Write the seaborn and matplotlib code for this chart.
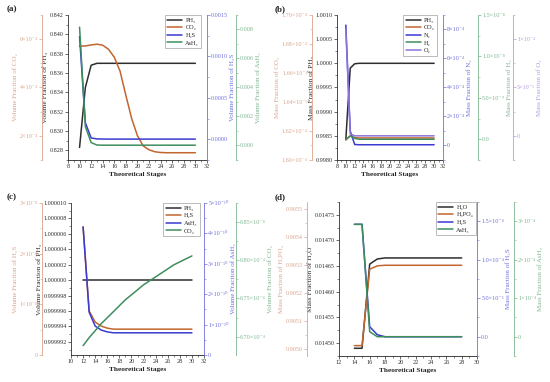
import matplotlib
matplotlib.use("Agg")
import matplotlib.pyplot as plt
import seaborn as sns
from matplotlib.ticker import MultipleLocator, AutoMinorLocator, FormatStrFormatter

# ---------------- data ----------------
stages_a = [10, 11, 12, 13, 14, 15, 16, 17, 18, 19, 20, 21, 22, 23, 24, 25, 26, 27, 28, 29, 30]
a_ph3 = [0.8283, 0.8345, 0.8368, 0.8370, 0.8370, 0.8370, 0.8370, 0.8370, 0.8370, 0.8370, 0.8370,
         0.8370, 0.8370, 0.8370, 0.8370, 0.8370, 0.8370, 0.8370, 0.8370, 0.8370, 0.8370]
a_co2 = [5.71e-4, 5.72e-4, 5.76e-4, 5.79e-4, 5.75e-4, 5.58e-4, 5.25e-4, 4.67e-4, 3.67e-4, 2.71e-4, 2.00e-4,
         1.58e-4, 1.42e-4, 1.34e-4, 1.31e-4, 1.30e-4, 1.30e-4, 1.30e-4, 1.30e-4, 1.30e-4, 1.30e-4]
a_h2s = [1.24e-3, 2.0e-4, 1.6e-5, 4e-6, 3e-6, 2e-6, 2e-6, 2e-6, 2e-6, 2e-6, 2e-6,
         2e-6, 2e-6, 2e-6, 2e-6, 2e-6, 2e-6, 2e-6, 2e-6, 2e-6, 2e-6]
a_ash3 = [8.16e-3, 1.30e-3, 2.0e-4, 3e-5, 2e-5, 2e-5, 2e-5, 2e-5, 2e-5, 2e-5, 2e-5,
          2e-5, 2e-5, 2e-5, 2e-5, 2e-5, 2e-5, 2e-5, 2e-5, 2e-5, 2e-5]

stages_b = [10, 11, 12, 13, 14, 15, 16, 17, 18, 19, 20, 21, 22, 23, 24, 25, 26, 27, 28, 29, 30]
b_ph3 = [0.99842, 0.99990, 0.99999, 1.0, 1.0, 1.0, 1.0, 1.0, 1.0, 1.0, 1.0,
         1.0, 1.0, 1.0, 1.0, 1.0, 1.0, 1.0, 1.0, 1.0, 1.0]
b_co2 = [1.6138e-4, 1.6166e-4, 1.6155e-4, 1.6152e-4, 1.6152e-4, 1.6152e-4, 1.6152e-4, 1.6152e-4,
         1.6152e-4, 1.6152e-4, 1.6152e-4, 1.6152e-4, 1.6152e-4, 1.6152e-4, 1.6152e-4, 1.6152e-4,
         1.6152e-4, 1.6152e-4, 1.6152e-4, 1.6152e-4, 1.6152e-4]
b_n2 = [8.3e-4, 1.0e-4, 7e-6, 5e-6, 5e-6, 5e-6, 5e-6, 5e-6, 5e-6, 5e-6, 5e-6,
        5e-6, 5e-6, 5e-6, 5e-6, 5e-6, 5e-6, 5e-6, 5e-6, 5e-6, 5e-6]
b_h2 = [0.0, 4e-10, 1e-10, 0.0, 0.0, 0.0, 0.0, 0.0, 0.0, 0.0, 0.0,
        0.0, 0.0, 0.0, 0.0, 0.0, 0.0, 0.0, 0.0, 0.0, 0.0]
b_o2 = [1.1e-4, 2e-6, 0.0, 0.0, 0.0, 0.0, 0.0, 0.0, 0.0, 0.0, 0.0,
        0.0, 0.0, 0.0, 0.0, 0.0, 0.0, 0.0, 0.0, 0.0, 0.0]

stages_c = [12, 13, 14, 15, 16, 17, 18, 19, 20, 21, 22, 23, 24, 25, 26, 27, 28, 29, 30]
c_ph3 = [1.0, 1.0, 1.0, 1.0, 1.0, 1.0, 1.0, 1.0, 1.0, 1.0, 1.0, 1.0, 1.0, 1.0, 1.0, 1.0, 1.0, 1.0, 1.0]
c_h2s = [2.53e-8, 0.87e-8, 0.65e-8, 0.57e-8, 0.53e-8, 0.51e-8, 0.51e-8, 0.51e-8, 0.51e-8, 0.51e-8,
         0.51e-8, 0.51e-8, 0.51e-8, 0.51e-8, 0.51e-8, 0.51e-8, 0.51e-8, 0.51e-8, 0.51e-8]
c_ash3 = [4.21e-10, 1.41e-10, 0.95e-10, 0.82e-10, 0.76e-10, 0.73e-10, 0.73e-10, 0.73e-10, 0.73e-10,
          0.73e-10, 0.73e-10, 0.73e-10, 0.73e-10, 0.73e-10, 0.73e-10, 0.73e-10, 0.73e-10, 0.73e-10, 0.73e-10]
c_co2 = [6.6883e-4, 6.6987e-4, 6.7078e-4, 6.7170e-4, 6.7248e-4, 6.7326e-4, 6.7405e-4, 6.7483e-4,
         6.7548e-4, 6.7613e-4, 6.7679e-4, 6.7731e-4, 6.7783e-4, 6.7835e-4, 6.7887e-4, 6.7940e-4,
         6.7979e-4, 6.8018e-4, 6.8057e-4]

stages_d = [14, 15, 16, 17, 18, 19, 20, 21, 22, 23, 24, 25, 26, 27, 28]
d_h2o = [0.01449, 0.01449, 0.014654, 0.014664, 0.014666, 0.014666, 0.014666, 0.014666,
         0.014666, 0.014666, 0.014666, 0.014666, 0.014666, 0.014666, 0.014666]
d_h3po4 = [0.905012, 0.905012, 0.905285, 0.905297, 0.905299, 0.905299, 0.905299, 0.905299,
           0.905299, 0.905299, 0.905299, 0.905299, 0.905299, 0.905299, 0.905299]
d_h2s = [1.46e-4, 1.46e-4, 1.3e-5, 2.6e-6, 0.0, 0.0, 0.0, 0.0, 0.0, 0.0, 0.0, 0.0, 0.0, 0.0, 0.0]
d_ash3 = [2.92e-4, 2.92e-4, 1.3e-5, 0.0, 0.0, 0.0, 0.0, 0.0, 0.0, 0.0, 0.0, 0.0, 0.0, 0.0, 0.0]

# tick labels of the extra axes
a_co2_ticks, a_co2_labels = [2e-4, 4e-4, 6e-4], ["2×10⁻⁴", "4×10⁻⁴", "6×10⁻⁴"]
a_h2s_ticks, a_h2s_labels = [0, 5e-4, 1e-3, 1.5e-3], ["0.0000", "0.0005", "0.0010", "0.0015"]
a_ash3_ticks, a_ash3_labels = [0, 2e-3, 4e-3, 6e-3, 8e-3], ["0.000", "0.002", "0.004", "0.006", "0.008"]
b_co2_ticks = [1.60e-4, 1.62e-4, 1.64e-4, 1.66e-4, 1.68e-4, 1.70e-4]
b_co2_labels = ["1.60×10⁻⁴", "1.62×10⁻⁴", "1.64×10⁻⁴", "1.66×10⁻⁴", "1.68×10⁻⁴", "1.70×10⁻⁴"]
b_n2_ticks, b_n2_labels = [0, 2e-4, 4e-4, 6e-4, 8e-4], ["0", "2×10⁻⁴", "4×10⁻⁴", "6×10⁻⁴", "8×10⁻⁴"]
b_h2_ticks, b_h2_labels = [0, 5e-9, 1e-8, 1.5e-8], ["0.0", "5.0×10⁻⁹", "1.0×10⁻⁸", "1.5×10⁻⁸"]
b_o2_ticks, b_o2_labels = [0, 5e-5, 1e-4], ["0", "5×10⁻⁵", "1×10⁻⁴"]
c_h2s_ticks, c_h2s_labels = [0, 1e-8, 2e-8, 3e-8], ["0", "1×10⁻⁸", "2×10⁻⁸", "3×10⁻⁸"]
c_ash3_ticks = [0, 1e-10, 2e-10, 3e-10, 4e-10, 5e-10]
c_ash3_labels = ["0", "1×10⁻¹⁰", "2×10⁻¹⁰", "3×10⁻¹⁰", "4×10⁻¹⁰", "5×10⁻¹⁰"]
c_co2_ticks = [6.70e-4, 6.75e-4, 6.80e-4, 6.85e-4]
c_co2_labels = ["6.70×10⁻⁴", "6.75×10⁻⁴", "6.80×10⁻⁴", "6.85×10⁻⁴"]
d_h3po4_ticks = [0.9050, 0.9051, 0.9052, 0.9053, 0.9054, 0.9055]
d_h3po4_labels = ["0.9050", "0.9051", "0.9052", "0.9053", "0.9054", "0.9055"]
d_h2s_ticks, d_h2s_labels = [0, 5e-5, 1e-4, 1.5e-4], ["0.0", "5.0×10⁻⁵", "1.0×10⁻⁴", "1.5×10⁻⁴"]
d_ash3_ticks, d_ash3_labels = [0, 1e-4, 2e-4, 3e-4], ["0", "1×10⁻⁴", "2×10⁻⁴", "3×10⁻⁴"]

# ---------------- style ----------------
sns.set_style("ticks")
plt.rcParams["font.family"] = ["Liberation Serif", "DejaVu Serif"]
plt.rcParams["axes.linewidth"] = 0.6

DARK = "#2e2e2e"
BROWN, BROWN_AX = "#c2652f", "#d9a48c"
BLUE, BLUE_AX = "#3b3bd0", "#6f6fdc"
GREEN, GREEN_AX = "#3e8e5e", "#7db58f"
PURPLE, PURPLE_AX = "#8f74d8", "#b39be0"
TS = 4.4   # tick label size
LS = 5.3   # axis label size


def setup_main(ax, xlim, ylim, ystep, yfmt, ylabel):
    ax.set_xlim(xlim)
    ax.set_ylim(ylim)
    ax.xaxis.set_major_locator(MultipleLocator(2))
    ax.xaxis.set_minor_locator(MultipleLocator(1))
    ax.yaxis.set_major_locator(MultipleLocator(ystep))
    ax.yaxis.set_major_formatter(FormatStrFormatter(yfmt))
    ax.yaxis.set_minor_locator(AutoMinorLocator(2))
    ax.spines["top"].set_visible(False)
    ax.spines["right"].set_visible(False)
    ax.spines["left"].set_color(DARK)
    ax.tick_params(which="major", labelsize=TS, length=2, width=0.5, pad=1, colors=DARK)
    ax.tick_params(which="minor", length=1.2, width=0.4, colors=DARK)
    ax.set_xlabel("Theoretical Stages", fontsize=LS, fontweight="bold", labelpad=2)
    ax.set_ylabel(ylabel, fontsize=LS, color=DARK, labelpad=1)


def add_axis(ax, side, pos, color, ylim, ticks, labels, ylabel):
    t = ax.twinx()
    t.set_ylim(ylim)
    t.spines["top"].set_visible(False)
    t.spines["bottom"].set_visible(False)
    if side == "left":
        t.spines["right"].set_visible(False)
        t.spines["left"].set_visible(True)
        t.spines["left"].set_position(("axes", pos))
        t.yaxis.tick_left()
        t.yaxis.set_label_position("left")
    else:
        t.spines["left"].set_visible(False)
        t.spines["right"].set_position(("axes", pos))
    t.spines[side].set_color(color)
    t.set_yticks(ticks, labels)
    t.yaxis.set_minor_locator(AutoMinorLocator(2))
    t.tick_params(axis="y", which="major", labelsize=TS, length=2, width=0.5, pad=1, colors=color)
    t.tick_params(axis="y", which="minor", length=1.2, width=0.4, colors=color)
    t.set_ylabel(ylabel, fontsize=LS - 0.3, color=color, labelpad=1)
    return t


def draw(ax, x, y, color, label):
    sns.lineplot(x=x, y=y, ax=ax, color=color, linewidth=1.1, legend=False)
    line = ax.lines[-1]
    line.set_label(label)
    return line


def legend(ax, handles, anchor):
    leg = ax.legend(handles=handles, loc="upper right", bbox_to_anchor=anchor, fontsize=4.5,
                    frameon=True, fancybox=False, edgecolor="#888888", handlelength=2.4,
                    handletextpad=0.5, borderpad=0.4, labelspacing=0.35, borderaxespad=0)
    leg.get_frame().set_linewidth(0.5)


fig = plt.figure(figsize=(5.5, 3.82), dpi=100)

# ---------------- (a) ----------------
ax = fig.add_axes([0.1236, 0.5812, 0.2527, 0.3796])
setup_main(ax, (8, 32), (0.827, 0.842), 0.002, "%.3f", "Volume Fraction of PH₃")
t1 = add_axis(ax, "left", -0.187, BROWN_AX, (1e-4, 7e-4), a_co2_ticks, a_co2_labels, "Volume Fraction of CO₂")
t2 = add_axis(ax, "right", 1.0, BLUE_AX, (-0.00025, 0.0015), a_h2s_ticks, a_h2s_labels, "Volume Fraction of H₂S")
t3 = add_axis(ax, "right", 1.209, GREEN_AX, (-0.001, 0.009), a_ash3_ticks, a_ash3_labels, "Volume Fraction of AsH₃")
h = [draw(ax, stages_a, a_ph3, DARK, "PH₃"),
     draw(t1, stages_a, a_co2, BROWN, "CO₂"),
     draw(t2, stages_a, a_h2s, BLUE, "H₂S"),
     draw(t3, stages_a, a_ash3, GREEN, "AsH₃")]
legend(t3, h, (0.96, 1.0))

# ---------------- (b) ----------------
ax = fig.add_axes([0.6127, 0.5812, 0.1927, 0.3796])
setup_main(ax, (8, 32), (0.9980, 1.0010), 0.0005, "%.4f", "Mass Fraction of PH₃")
t1 = add_axis(ax, "left", -0.236, BROWN_AX, (1.60e-4, 1.70e-4), b_co2_ticks, b_co2_labels, "Mass Fraction of CO₂")
t2 = add_axis(ax, "right", 1.0, BLUE_AX, (-1e-4, 9e-4), b_n2_ticks, b_n2_labels, "Mass Fraction of N₂")
t3 = add_axis(ax, "right", 1.33, GREEN_AX, (-2.5e-9, 1.5e-8), b_h2_ticks, b_h2_labels, "Mass Fraction of H₂")
t4 = add_axis(ax, "right", 1.66, PURPLE_AX, (-2.5e-5, 1.25e-4), b_o2_ticks, b_o2_labels, "Mass Fraction of O₂")
h = [draw(ax, stages_b, b_ph3, DARK, "PH₃"),
     draw(t1, stages_b, b_co2, BROWN, "CO₂"),
     draw(t2, stages_b, b_n2, BLUE, "N₂"),
     draw(t3, stages_b, b_h2, GREEN, "H₂"),
     draw(t4, stages_b, b_o2, PURPLE, "O₂")]
legend(t4, h, (0.945, 1.0))

# ---------------- (c) ----------------
ax = fig.add_axes([0.1291, 0.0707, 0.2418, 0.3979])
setup_main(ax, (10, 32), (0.9999903, 1.00001), 0.000002, "%.6f", "Volume Fraction of PH₃")
t1 = add_axis(ax, "left", -0.218, BROWN_AX, (0, 3e-8), c_h2s_ticks, c_h2s_labels, "Volume Fraction of H₂S")
t2 = add_axis(ax, "right", 1.0, BLUE_AX, (0, 5e-10), c_ash3_ticks, c_ash3_labels, "Volume Fraction of AsH₃")
t3 = add_axis(ax, "right", 1.24, GREEN_AX, (6.676e-4, 6.875e-4), c_co2_ticks, c_co2_labels, "Volume Fraction of CO₂")
h = [draw(ax, stages_c, c_ph3, DARK, "PH₃"),
     draw(t1, stages_c, c_h2s, BROWN, "H₂S"),
     draw(t2, stages_c, c_ash3, BLUE, "AsH₃"),
     draw(t3, stages_c, c_co2, GREEN, "CO₂")]
legend(t3, h, (0.97, 1.0))

# ---------------- (d) ----------------
ax = fig.add_axes([0.6164, 0.0681, 0.2509, 0.4031])
setup_main(ax, (12, 30), (0.014475, 0.014775), 0.00005, "%.5f", "Mass Fraction of H₂O")
t1 = add_axis(ax, "left", -0.232, BROWN_AX, (0.904975, 0.905525), d_h3po4_ticks, d_h3po4_labels, "Mass Fraction of H₃PO₄")
t2 = add_axis(ax, "right", 1.0, BLUE_AX, (-2.5e-5, 1.75e-4), d_h2s_ticks, d_h2s_labels, "Mass Fraction of H₂S")
t3 = add_axis(ax, "right", 1.268, GREEN_AX, (-5e-5, 3.5e-4), d_ash3_ticks, d_ash3_labels, "Mass Fraction of AsH₃")
h = [draw(ax, stages_d, d_h2o, DARK, "H₂O"),
     draw(t1, stages_d, d_h3po4, BROWN, "H₃PO₄"),
     draw(t2, stages_d, d_h2s, BLUE, "H₂S"),
     draw(t3, stages_d, d_ash3, GREEN, "AsH₃")]
legend(t3, h, (0.99, 1.0))

for x, y, s in [(0.012, 0.975, "(a)"), (0.5, 0.975, "(b)"), (0.012, 0.484, "(c)"), (0.5, 0.484, "(d)")]:
    fig.text(x, y, s, fontsize=6.5, fontweight="bold", ha="left", va="center")

fig.savefig("out.png", dpi=100)
